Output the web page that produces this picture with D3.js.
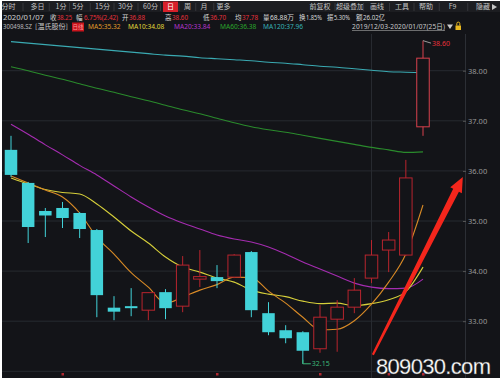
<!DOCTYPE html>
<html>
<head>
<meta charset="utf-8">
<script src="https://cdn.jsdelivr.net/npm/d3@7"></script>
<style>
  body { margin: 0; background: #fff; }
  svg { display: block; font-family: "Noto Sans CJK SC", "Noto Sans", sans-serif; }
</style>
</head>
<body>
<div id="chart"></div>
<script>
// ---- data ----
const dates = ["2019/12/03","2019/12/04","2019/12/05","2019/12/06","2019/12/09","2019/12/10","2019/12/11",
  "2019/12/12","2019/12/13","2019/12/16","2019/12/17","2019/12/18","2019/12/19","2019/12/20","2019/12/23",
  "2019/12/24","2019/12/25","2019/12/26","2019/12/27","2019/12/30","2019/12/31","2020/01/02","2020/01/03",
  "2020/01/06","2020/01/07"];
const open  = [36.42,35.76,35.20,35.26,35.16,34.82,33.27,33.30,33.22,33.58,33.30,33.84,33.88,33.88,34.38,33.16,32.82,32.78,32.45,33.04,33.28,33.86,34.42,34.32,36.88];
const high  = [36.70,35.78,35.26,35.38,35.18,34.84,33.50,33.66,33.57,33.64,34.30,34.42,34.12,34.34,34.40,33.38,32.92,32.80,33.32,33.42,33.86,34.62,34.78,36.22,38.60];
const low   = [35.88,34.56,34.68,34.86,34.66,33.08,33.02,33.10,33.02,33.04,33.18,33.68,33.66,33.86,33.08,32.72,32.56,32.15,32.37,32.39,33.16,33.76,33.98,34.30,36.70];
const close = [35.92,34.88,35.11,35.06,34.84,33.52,33.19,33.26,33.57,33.26,34.12,33.89,33.80,34.32,33.22,32.78,32.66,32.41,33.08,33.28,33.62,34.32,34.62,35.86,38.25];

const ma5   = [35.90,35.76,35.62,35.48,35.16,34.68,34.34,33.97,33.68,33.36,33.48,33.62,33.73,33.88,33.87,33.60,33.36,33.08,32.83,32.84,33.01,33.34,33.78,34.34,35.32];
const ma10  = [35.86,35.74,35.63,35.57,35.54,35.34,35.08,34.80,34.56,34.28,34.08,33.98,33.86,33.78,33.62,33.54,33.49,33.40,33.35,33.36,33.31,33.35,33.43,33.59,34.08];
const ma20  = [36.93,36.73,36.52,36.32,36.11,35.92,35.70,35.48,35.28,35.10,34.96,34.84,34.72,34.64,34.58,34.48,34.34,34.18,34.04,33.90,33.76,33.68,33.65,33.66,33.84];
const ma60  = [38.08,38.00,37.91,37.83,37.74,37.65,37.57,37.48,37.40,37.31,37.22,37.14,37.05,36.96,36.88,36.82,36.77,36.71,36.65,36.59,36.53,36.47,36.42,36.37,36.38];
const ma120 = [38.58,38.55,38.52,38.49,38.46,38.43,38.40,38.37,38.34,38.31,38.29,38.26,38.24,38.22,38.20,38.17,38.15,38.12,38.09,38.07,38.04,38.01,37.98,37.97,37.96];

const priceTicks = [32, 33, 34, 35, 36, 37, 38];
const periodTabs = ["分时","多日","1分","5分","15分","30分","60分","日","周","月","更多"];
const toolTabs   = ["前复权","超级叠加","画线","工具","帮助","F9","隐藏"];
const quoteLabels = ["收","幅","开","高","低","均","量","换","振","额"];
const quoteValues = ["38.25","6.75%(2.42)","36.88","38.60","36.70","37.78","68.88万","1.85%","5.30%","26.02亿"];
const maNames = ["MA5","MA10","MA20","MA60","MA120"];
const eventDays = [3, 12, 18, 22, 24];
// annotation arrow in (index, price)
const arrowFrom = [21.08, 32.33];
const arrowTo   = [26.32, 35.88];

// ---- layout ----
const W = 500, H = 382;
const bg = "#131418", grid = "#272a30";
const upColor = "#b8252e", downColor = "#42d2d8";
const maColors = ["#d88a26", "#d6cf3a", "#a52cb0", "#2a8a2c", "#3aaab2"];
const maLabelColors = ["#e09a28", "#e0d83a", "#b234c8", "#2aa52c", "#36b0b6"];

const svg = d3.select("#chart").append("svg").attr("width", W).attr("height", H);

svg.append("rect").attr("x", 2).attr("y", 1).attr("width", W - 2).attr("height", 377).attr("fill", bg);
svg.append("rect").attr("x", 2).attr("y", 1).attr("width", W - 2).attr("height", 11).attr("fill", "#1c1d21");

const x = d3.scaleLinear().domain([0, dates.length - 1]).range([11, 423]);
const y = d3.scaleLinear().domain([32, 38]).range([371.3, 70.7]);
const bodyW = 12.5;

// grid
const plot = svg.append("g");
plot.selectAll("line.h").data(priceTicks).join("line")
  .attr("x1", 2).attr("x2", 465).attr("y1", d => y(d)).attr("y2", d => y(d))
  .attr("stroke", grid).attr("stroke-width", 1);
plot.append("line").attr("x1", x(21)).attr("x2", x(21)).attr("y1", 34).attr("y2", 378)
  .attr("stroke", grid);
plot.append("line").attr("x1", 465.5).attr("x2", 465.5).attr("y1", 34).attr("y2", 378)
  .attr("stroke", "#2c2f35");

// right axis
const axis = d3.axisRight(y).tickValues(priceTicks.filter(d => d > 32))
  .tickFormat(d3.format(".2f")).tickSize(3).tickPadding(2);
svg.append("g").attr("transform", "translate(463,0)").call(axis)
  .call(g => g.select(".domain").remove())
  .call(g => g.selectAll("line").attr("stroke", "#555"))
  .call(g => g.selectAll("text").attr("fill", "#9a9a9a").attr("font-size", 7.5)
    .attr("font-family", "Noto Sans, sans-serif"));

// moving averages
const maSeries = [ma120, ma60, ma20, ma10, ma5];
const maCol = [maColors[4], maColors[3], maColors[2], maColors[1], maColors[0]];
const line = d3.line().x((d, i) => x(i)).y(d => y(d)).curve(d3.curveMonotoneX);
maSeries.forEach((s, k) => {
  plot.append("path").attr("d", line(s)).attr("fill", "none")
    .attr("stroke", maCol[k]).attr("stroke-width", 1.1);
});

// candles
const idx = d3.range(dates.length);
const candles = plot.selectAll("g.c").data(idx).join("g");
candles.append("line")
  .attr("x1", i => x(i)).attr("x2", i => x(i))
  .attr("y1", i => y(high[i])).attr("y2", i => y(low[i]))
  .attr("stroke", i => close[i] >= open[i] ? (i === 24 ? "#d8404c" : upColor) : downColor).attr("stroke-width", 1);
candles.append("rect")
  .attr("x", i => x(i) - bodyW / 2)
  .attr("y", i => y(Math.max(open[i], close[i])))
  .attr("width", bodyW)
  .attr("height", i => Math.max(1.5, Math.abs(y(open[i]) - y(close[i]))))
  .attr("fill", i => close[i] >= open[i] ? bg : downColor)
  .attr("stroke", i => close[i] >= open[i] ? (i === 24 ? "#d8404c" : upColor) : "none")
  .attr("stroke-width", 1);

// high / low labels
const hi = 24, lo = 17;
plot.append("path")
  .attr("d", `M${x(hi)},${y(high[hi])} L${x(hi) + 8},${y(high[hi]) + 2.5}`)
  .attr("stroke", "#999").attr("fill", "none");
plot.append("text").attr("x", x(hi) + 9).attr("y", y(high[hi]) + 3)
  .attr("dy", "0.35em").attr("font-size", 7).attr("fill", "#e8303a")
  .attr("font-family", "Noto Sans, sans-serif").text(high[hi].toFixed(2));
plot.append("path")
  .attr("d", `M${x(lo)},${y(low[lo]) - 4} L${x(lo)},${y(low[lo])} L${x(lo) + 8},${y(low[lo])}`)
  .attr("stroke", "#3cb878").attr("fill", "none");
plot.append("text").attr("x", x(lo) + 9).attr("y", y(low[lo]))
  .attr("dy", "0.35em").attr("font-size", 7).attr("fill", "#3cb878")
  .attr("font-family", "Noto Sans, sans-serif").text(low[lo].toFixed(2));

// event marks at the bottom
plot.selectAll("rect.ev").data(eventDays).join("rect")
  .attr("x", i => x(i) - 1).attr("y", 373).attr("width", 2.5).attr("height", 2.5)
  .attr("fill", "#b02830");

// red arrow annotation
{
  const x0 = x(arrowFrom[0]), y0 = y(arrowFrom[1]);
  const x1 = x(arrowTo[0]), y1 = y(arrowTo[1]);
  const len = Math.hypot(x1 - x0, y1 - y0);
  const ux = (x1 - x0) / len, uy = (y1 - y0) / len;
  const nx = -uy, ny = ux;
  const headL = 15, headW = 6.5, tailW = 1.1, neckW = 3.2;
  const bx = x1 - ux * headL, by = y1 - uy * headL;
  const pts = [
    [x0 + nx * tailW, y0 + ny * tailW],
    [bx + nx * neckW, by + ny * neckW],
    [bx + nx * headW, by + ny * headW],
    [x1, y1],
    [bx - nx * headW, by - ny * headW],
    [bx - nx * neckW, by - ny * neckW],
    [x0 - nx * tailW, y0 - ny * tailW]
  ];
  svg.append("path").attr("d", "M" + pts.map(p => p.join(",")).join("L") + "Z")
    .attr("fill", "#f4261c");
}

// ---- header ----
const head = svg.append("g").attr("font-size", 7);
const tabX = [8.5, 37.5, 61, 78, 102.5, 125.5, 150.5, 170.5, 187.5, 204, 223.5];
head.append("rect").attr("x", 163).attr("y", 1.5).attr("width", 15).attr("height", 10.5).attr("fill", "#d8202a");
head.selectAll("text.tab").data(periodTabs).join("text")
  .attr("x", (d, i) => tabX[i]).attr("y", 7).attr("dy", "0.35em").attr("text-anchor", "middle")
  .attr("fill", d => d === "日" ? "#fff" : "#c4c4c4").text(d => d);
head.selectAll("line.sep").data(tabX.slice(1)).join("line")
  .attr("x1", (d, i) => (tabX[i] + d) / 2).attr("x2", (d, i) => (tabX[i] + d) / 2)
  .attr("y1", 3).attr("y2", 11).attr("stroke", "#34363b");
const toolX = [320, 350, 377, 402, 426, 452.5, 483];
head.selectAll("text.tool").data(toolTabs).join("text")
  .attr("x", (d, i) => toolX[i]).attr("y", 7).attr("dy", "0.35em").attr("text-anchor", "middle")
  .attr("fill", "#c4c4c4").text(d => d);
head.selectAll("line.tsep").data(toolX.slice(1)).join("line")
  .attr("x1", (d, i) => (toolX[i] + d) / 2).attr("x2", (d, i) => (toolX[i] + d) / 2)
  .attr("y1", 3).attr("y2", 11).attr("stroke", "#34363b");
head.append("path").attr("d", "M492,4 L497,7 L492,10 Z").attr("fill", "#c4c4c4");

// quote row
const row2 = svg.append("g").attr("font-size", 7).attr("font-family", "Noto Sans, Noto Sans CJK SC, sans-serif");
row2.append("text").attr("x", 3).attr("y", 17.5).attr("dy", "0.35em").attr("fill", "#d0d0d0")
  .attr("font-size", 7.5).attr("textLength", 41).attr("lengthAdjust", "spacingAndGlyphs").text(dates[24]);
const labX = [50, 76, 122, 165, 203, 235, 263, 299, 327, 356];
const valX = [57, 84, 129, 172, 210, 242, 270, 306, 334, 363];
const valW = [15, 34, 16, 16, 16, 16, 24, 16, 16, 22];
row2.selectAll("text.l").data(quoteLabels).join("text")
  .attr("x", (d, i) => labX[i]).attr("y", 17.5).attr("dy", "0.35em")
  .attr("font-family", "Noto Sans CJK SC").attr("font-size", 6.5)
  .attr("fill", "#d8d8d8").text(d => d);
row2.selectAll("text.v").data(quoteValues).join("text")
  .attr("x", (d, i) => valX[i]).attr("y", 17.5).attr("dy", "0.35em")
  .attr("textLength", (d, i) => valW[i]).attr("lengthAdjust", "spacingAndGlyphs")
  .attr("fill", (d, i) => i < 6 ? "#e8303a" : "#d8d8d8").text(d => d);

// MA legend row
const row3 = svg.append("g").attr("font-size", 6.6).attr("font-family", "Noto Sans, Noto Sans CJK SC, sans-serif");
row3.append("text").attr("x", 3).attr("y", 27).attr("dy", "0.35em").attr("fill", "#b8b8b8")
  .attr("textLength", 29).attr("lengthAdjust", "spacingAndGlyphs").text("300498.SZ");
row3.append("text").attr("x", 35).attr("y", 27).attr("dy", "0.35em").attr("fill", "#c8c8c8")
  .attr("font-family", "Noto Sans CJK SC").attr("textLength", 33).attr("lengthAdjust", "spacingAndGlyphs").text("[温氏股份]");
row3.append("rect").attr("x", 72).attr("y", 22.5).attr("width", 12).attr("height", 9).attr("fill", "#c8141c");
row3.append("text").attr("x", 78).attr("y", 27).attr("dy", "0.35em").attr("text-anchor", "middle")
  .attr("fill", "#ff9a9a").attr("font-size", 5.5).attr("font-family", "Noto Sans CJK SC").text("日线");
const maVals = [ma5[24], ma10[24], ma20[24], ma60[24], ma120[24]];
const maX = [88, 128, 174, 220, 263];
row3.selectAll("text.ma").data(maNames).join("text")
  .attr("x", (d, i) => maX[i]).attr("y", 27).attr("dy", "0.35em")
  .attr("fill", (d, i) => maLabelColors[i]).text((d, i) => `${d}:${maVals[i].toFixed(2)}`);
const rangeTxt = `${dates[0]}-${dates[24]}(${dates.length}日)`;
row3.append("text").attr("x", 352).attr("y", 27).attr("dy", "0.35em").attr("fill", "#c8c8c8")
  .attr("textLength", 93).text(rangeTxt);
row3.append("line").attr("x1", 352).attr("x2", 445).attr("y1", 30.5).attr("y2", 30.5).attr("stroke", "#aaa").attr("stroke-width", 0.6);
row3.append("path").attr("d", "M447,24.5 L453,24.5 L450,29 Z").attr("fill", "#ccc");
row3.append("rect").attr("x", 455.5).attr("y", 25.5).attr("width", 5.5).attr("height", 4.5).attr("fill", "#e8b820");
row3.append("path").attr("d", "M456.8,25.5 V23.6 A1.5,1.5 0 0 1 459.8,23.6 V25.5").attr("fill", "none").attr("stroke", "#e8b820");

// watermark
svg.append("text").attr("x", 376).attr("y", 374).attr("font-size", 22)
  .attr("font-family", "Liberation Sans, Arial, sans-serif").attr("fill", "#fff")
  .attr("textLength", 115).attr("stroke", "#555").attr("stroke-width", 0.3)
  .text("809030.com");
</script>
</body>
</html>
